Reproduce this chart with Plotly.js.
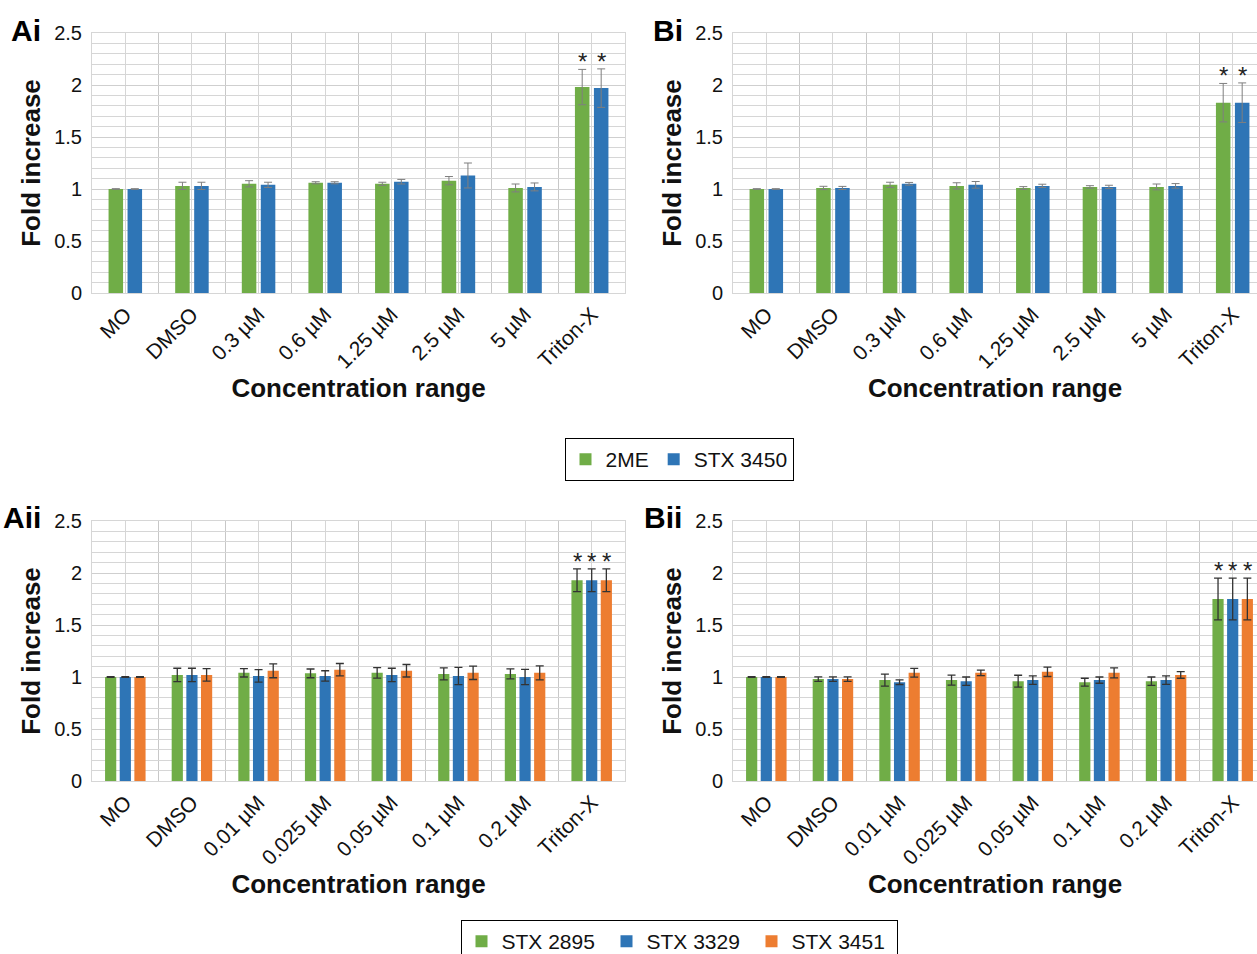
<!DOCTYPE html>
<html>
<head>
<meta charset="utf-8">
<script src="https://cdn.plot.ly/plotly-3.0.1.min.js"></script>
<style>
  html, body { margin: 0; padding: 0; background: #fff; overflow: hidden; width: 1257px; height: 954px; }
  #chart { width: 1257px; height: 964px; }
</style>
</head>
<body>
<div id="chart"></div>
<script>
// ---------------- data ----------------
const catsI  = ['MO', 'DMSO', '0.3 µM', '0.6 µM', '1.25 µM', '2.5 µM', '5 µM', 'Triton-X'];
const catsII = ['MO', 'DMSO', '0.01 µM', '0.025 µM', '0.05 µM', '0.1 µM', '0.2 µM', 'Triton-X'];
const sigMarks = ['', '', '', '', '', '', '', '*'];

// Panel Ai
const ai_2ME      = [1.00, 1.03, 1.05, 1.06, 1.05, 1.08, 1.01, 1.98];
const ai_2ME_err  = [0.003, 0.035, 0.03, 0.01, 0.015, 0.04, 0.038, 0.17];
const ai_3450     = [1.00, 1.03, 1.04, 1.06, 1.07, 1.13, 1.02, 1.97];
const ai_3450_err = [0.003, 0.035, 0.025, 0.01, 0.022, 0.12, 0.038, 0.185];

// Panel Bi
const bi_2ME      = [1.00, 1.01, 1.04, 1.03, 1.01, 1.02, 1.02, 1.83];
const bi_2ME_err  = [0.003, 0.016, 0.025, 0.03, 0.013, 0.012, 0.028, 0.185];
const bi_3450     = [1.00, 1.01, 1.05, 1.04, 1.03, 1.02, 1.03, 1.83];
const bi_3450_err = [0.003, 0.015, 0.013, 0.032, 0.016, 0.016, 0.022, 0.19];

// Panel Aii
const aii_2895     = [1.00, 1.02, 1.04, 1.035, 1.04, 1.03, 1.03, 1.93];
const aii_2895_err = [0.003, 0.064, 0.04, 0.042, 0.05, 0.058, 0.048, 0.11];
const aii_3329     = [1.00, 1.02, 1.01, 1.01, 1.02, 1.01, 1.00, 1.93];
const aii_3329_err = [0.003, 0.064, 0.06, 0.05, 0.064, 0.083, 0.073, 0.11];
const aii_3451     = [1.00, 1.02, 1.06, 1.07, 1.06, 1.04, 1.04, 1.93];
const aii_3451_err = [0.003, 0.06, 0.067, 0.06, 0.06, 0.064, 0.067, 0.11];

// Panel Bii
const bii_2895     = [1.00, 0.98, 0.97, 0.97, 0.96, 0.95, 0.96, 1.75];
const bii_2895_err = [0.003, 0.022, 0.058, 0.048, 0.057, 0.038, 0.04, 0.2];
const bii_3329     = [1.00, 0.98, 0.95, 0.96, 0.97, 0.97, 0.97, 1.75];
const bii_3329_err = [0.003, 0.022, 0.022, 0.04, 0.04, 0.03, 0.04, 0.2];
const bii_3451     = [1.00, 0.98, 1.04, 1.04, 1.05, 1.04, 1.02, 1.75];
const bii_3451_err = [0.003, 0.022, 0.042, 0.026, 0.045, 0.048, 0.032, 0.2];

// ---------------- styles ----------------
const GREEN = '#70AD47', BLUE = '#2E75B6', ORANGE = '#ED7D31';
const FONT = 'Arial, "Liberation Sans", sans-serif';
const GRID = '#d6d6d6';
const W = 1257, H = 964;   // plot slightly taller than the window; bottom legend is cut off as in the original

const idx = catsI.map((_, i) => i);

const annotations = [];
const traces = [];

function addPanel(series, xa, ya, slot, width, errColor, errThick, legendName) {
  const n = series.length;
  series.forEach((s, k) => {
    const off = (k - n / 2) * slot + (slot - width) / 2;
    traces.push({
      type: 'bar',
      x: idx,
      y: s.y,
      name: s.name,
      xaxis: xa, yaxis: ya,
      width: width,
      offset: off,
      marker: { color: s.color },
      error_y: { type: 'data', array: s.err, visible: true, color: errColor, thickness: errThick, width: 4 },
      showlegend: !!legendName,
      legend: legendName || 'legend',
      hoverinfo: 'y+name'
    });
    const center = off + width / 2;
    sigMarks.forEach((m, i) => {
      if (!m) return;
      annotations.push({
        xref: xa, yref: ya,
        x: idx[i] + center, y: s.y[i] + s.err[i],
        text: m, showarrow: false, yanchor: 'bottom', yshift: -8,
        font: { family: FONT, size: 24, color: '#222' }
      });
    });
  });
}

addPanel([
  { name: '2ME', y: ai_2ME, err: ai_2ME_err, color: GREEN },
  { name: 'STX 3450', y: ai_3450, err: ai_3450_err, color: BLUE }
], 'x', 'y', 0.285, 0.218, '#7f7f7f', 1, 'legend');

addPanel([
  { name: '2ME', y: bi_2ME, err: bi_2ME_err, color: GREEN },
  { name: 'STX 3450', y: bi_3450, err: bi_3450_err, color: BLUE }
], 'x2', 'y2', 0.285, 0.218, '#7f7f7f', 1, null);

addPanel([
  { name: 'STX 2895', y: aii_2895, err: aii_2895_err, color: GREEN },
  { name: 'STX 3329', y: aii_3329, err: aii_3329_err, color: BLUE },
  { name: 'STX 3451', y: aii_3451, err: aii_3451_err, color: ORANGE }
], 'x3', 'y3', 0.22, 0.168, '#333333', 1.3, 'legend2');

addPanel([
  { name: 'STX 2895', y: bii_2895, err: bii_2895_err, color: GREEN },
  { name: 'STX 3329', y: bii_3329, err: bii_3329_err, color: BLUE },
  { name: 'STX 3451', y: bii_3451, err: bii_3451_err, color: ORANGE }
], 'x4', 'y4', 0.22, 0.168, '#333333', 1.3, null);

function px(x) { return x / W; }
function py(y) { return 1 - y / H; }

function xAxis(domain, rangeMax, cats, anchor) {
  return {
    domain: domain, anchor: anchor,
    range: [-0.5, rangeMax],
    tickmode: 'array', tickvals: idx, ticktext: cats,
    tickangle: -45, ticks: '',
    tickfont: { family: FONT, size: 21, color: '#111' },
    showgrid: true, gridcolor: GRID, gridwidth: 1,
    minor: { tickmode: 'array', tickvals: idx.map(i => i + 0.5), showgrid: true, gridcolor: '#c8c8c8', gridwidth: 1, ticks: '' },
    showline: true, linecolor: GRID, linewidth: 1, mirror: true,
    zeroline: false,
    title: { text: '<b>Concentration range</b>', font: { family: FONT, size: 26, color: '#111' }, standoff: 6 },
    fixedrange: true
  };
}
function yAxis(domain, anchor) {
  return {
    domain: domain, anchor: anchor,
    range: [0, 2.5], tick0: 0, dtick: 0.5,
    ticks: '', ticklabelstandoff: 5,
    tickfont: { family: FONT, size: 20, color: '#111' },
    showgrid: true, gridcolor: '#cfcfcf', gridwidth: 1,
    minor: { dtick: 0.1, showgrid: true, gridcolor: GRID, gridwidth: 1, ticks: '' },
    showline: true, linecolor: GRID, linewidth: 1, mirror: true,
    zeroline: false,
    title: { text: '<b>Fold increase</b>', font: { family: FONT, size: 26, color: '#111' }, standoff: 6 },
    fixedrange: true
  };
}

const xA = [px(92), px(625)];
const xB = [px(733), 1];
const yTop = [py(293), py(33)];
const yBot = [py(781), py(521)];
const rangeB = -0.5 + (W - 733) / ((625 - 92) / 8);

const panelLabels = [
  { t: 'Ai', x: 9, y: 30 },
  { t: 'Bi', x: 651, y: 30 },
  { t: 'Aii', x: 1, y: 517 },
  { t: 'Bii', x: 642, y: 517 }
];
panelLabels.forEach(p => annotations.push({
  xref: 'paper', yref: 'paper', x: px(p.x), y: py(p.y), xanchor: 'left', yanchor: 'middle',
  text: '<b>' + p.t + '</b>', showarrow: false,
  font: { family: FONT, size: 30, color: '#000' }
}));

const layout = {
  width: W, height: H,
  margin: { l: 0, r: 0, t: 0, b: 0 },
  paper_bgcolor: '#fff', plot_bgcolor: '#fff',
  barmode: 'overlay',
  font: { family: FONT, color: '#111' },
  xaxis: xAxis(xA, 7.5, catsI, 'y'),
  yaxis: yAxis(yTop, 'x'),
  xaxis2: xAxis(xB, rangeB, catsI, 'y2'),
  yaxis2: yAxis(yTop, 'x2'),
  xaxis3: xAxis(xA, 7.5, catsII, 'y3'),
  yaxis3: yAxis(yBot, 'x3'),
  xaxis4: xAxis(xB, rangeB, catsII, 'y4'),
  yaxis4: yAxis(yBot, 'x4'),
  legend: {
    orientation: 'h', x: px(679), xanchor: 'center', y: py(438), yanchor: 'top',
    bordercolor: '#000', borderwidth: 1, font: { family: FONT, size: 21, color: '#111' },
    bgcolor: '#fff', itemclick: false, itemdoubleclick: false
  },
  legend2: {
    orientation: 'h', x: px(679), xanchor: 'center', y: py(920), yanchor: 'top',
    bordercolor: '#000', borderwidth: 1, font: { family: FONT, size: 21, color: '#111' },
    bgcolor: '#fff', itemclick: false, itemdoubleclick: false, entrywidth: 100
  },
  annotations: annotations,
  showlegend: true
};

Plotly.newPlot('chart', traces, layout, { displayModeBar: false, staticPlot: true });
</script>
</body>
</html>
